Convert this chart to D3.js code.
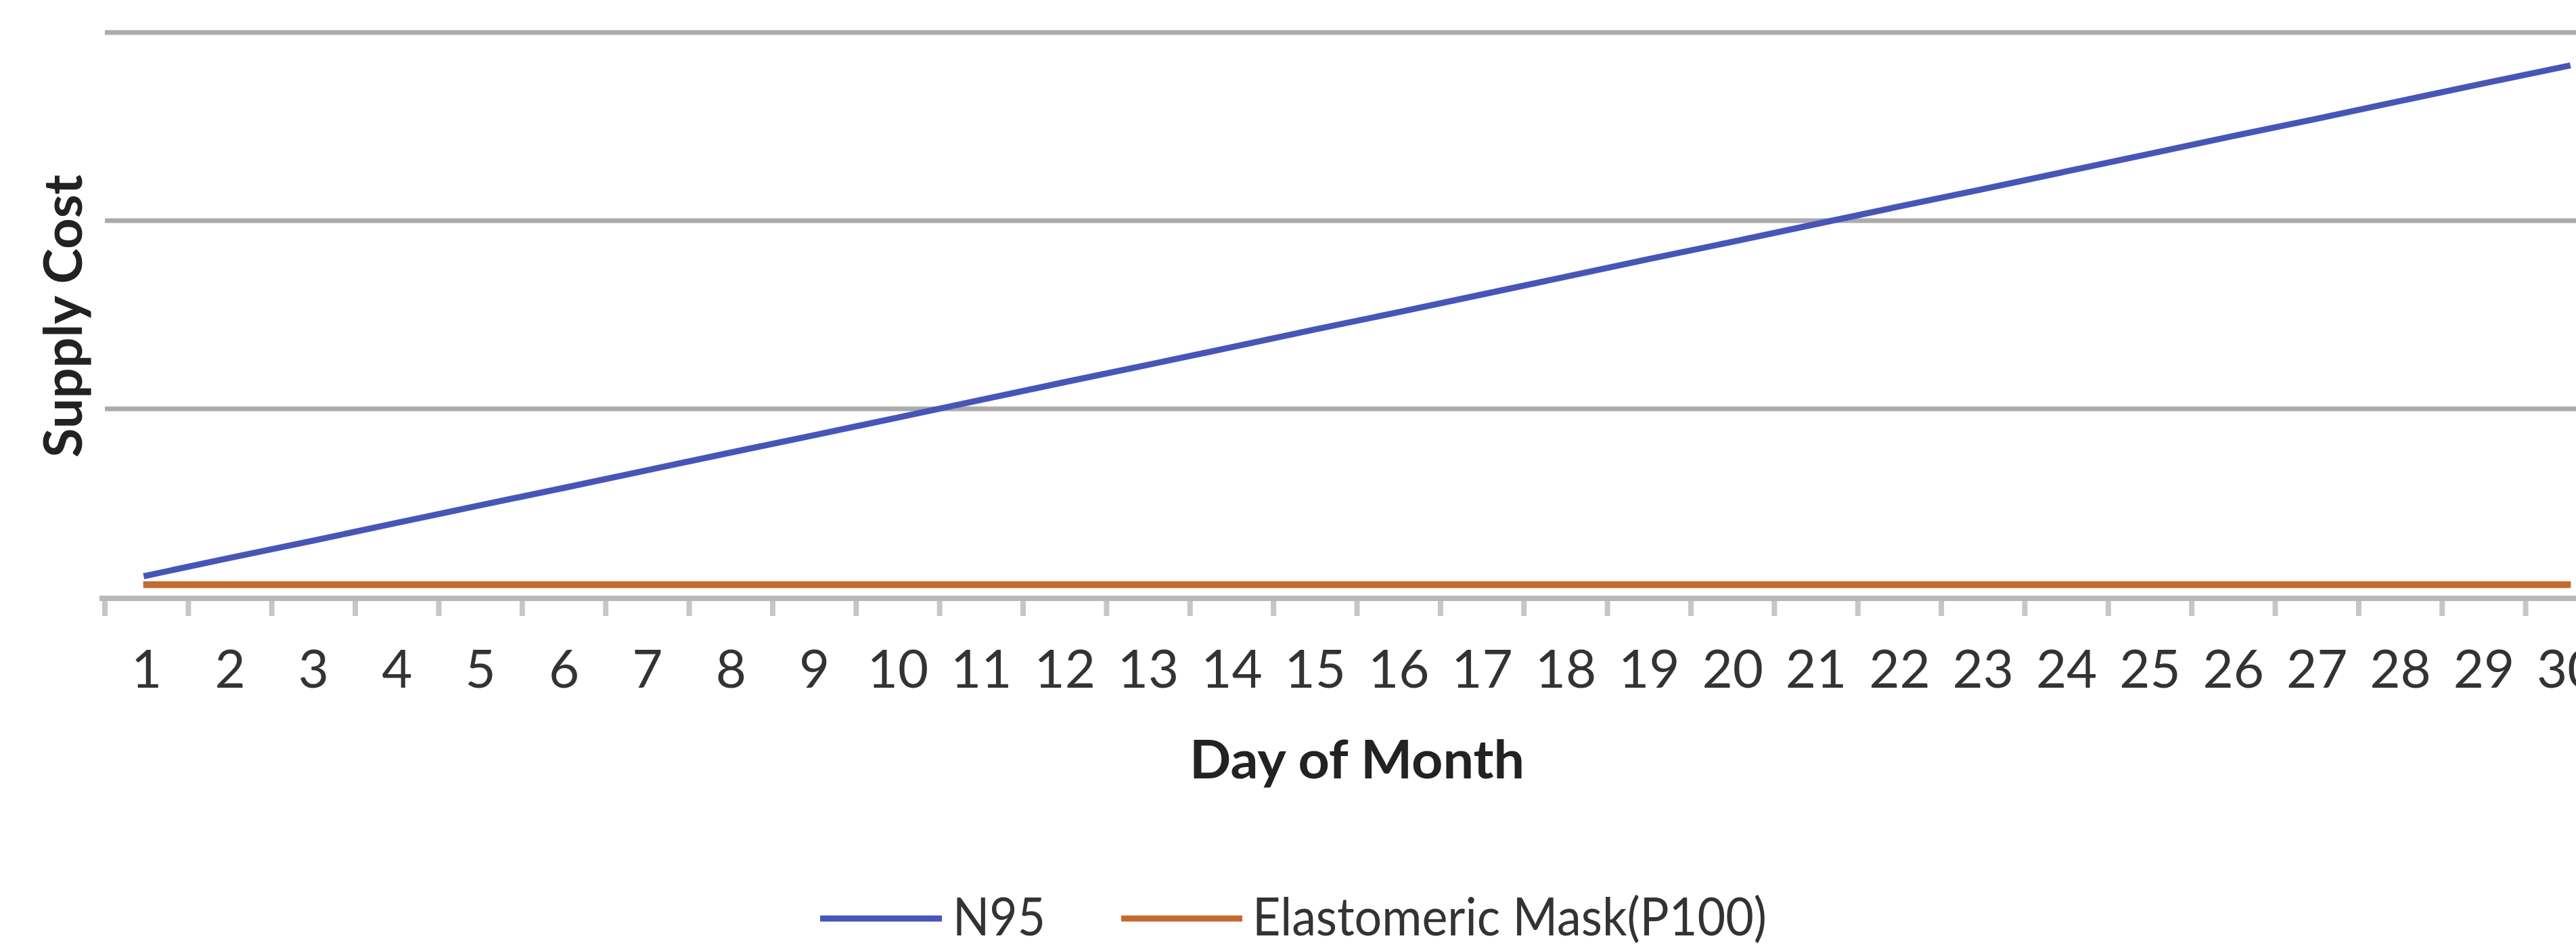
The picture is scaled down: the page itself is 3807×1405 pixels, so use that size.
<!DOCTYPE html>
<html><head><meta charset="utf-8">
<script src="https://cdn.jsdelivr.net/npm/d3@7"></script>
<style>html,body{margin:0;padding:0;background:#fff;overflow:hidden}</style>
</head><body><svg id="chart" width="3807" height="1405"></svg>
<script>
const days = ["1","2","3","4","5","6","7","8","9","10","11","12","13","14","15","16","17","18","19","20","21","22","23","24","25","26","27","28","29","30"];
const n95 = [57,104,150,197,244,290,337,384,430,477,524,571,617,664,711,757,804,851,898,944,991,1038,1084,1131,1178,1225,1271,1318,1365,1411];
const elastomeric = [33,33,33,33,33,33,33,33,33,33,33,33,33,33,33,33,33,33,33,33,33,33,33,33,33,33,33,33,33,33];
const seriesNames = ["N95","Elastomeric Mask(P100)"];
const seriesColors = ["#4656b8","#c46a30"];
const yTicks = [0,500,1000,1500];
const xTitle = "Day of Month";
const yTitle = "Supply Cost";

const W = 3807, H = 1405;
const plot = {left:155, right:3856, top:48, bottom:882};
const FONT = "Lato, 'Open Sans', sans-serif";

const svg = d3.select("#chart");
svg.append("rect").attr("width",W).attr("height",H).attr("fill","#ffffff");

const x = d3.scaleBand().domain(days).range([plot.left, plot.right]).padding(0);
const y = d3.scaleLinear().domain([0,1500]).range([plot.bottom, plot.top]);

// gridlines
svg.append("g").selectAll("line").data(yTicks.filter(v => v > 0)).join("line")
  .attr("x1", plot.left).attr("x2", W)
  .attr("y1", d => y(d)).attr("y2", d => y(d))
  .attr("stroke", "#ababab").attr("stroke-width", 7);

// x axis labels
const gx = svg.append("g").attr("transform", `translate(0,${plot.bottom})`)
  .call(d3.axisBottom(x).tickSize(0).tickPadding(79));
gx.select(".domain").remove();
gx.selectAll("text").attr("font-family", FONT).attr("font-size", 78).attr("fill", "#333");

// axis line + ticks at band boundaries
svg.append("line").attr("x1", plot.left - 8).attr("x2", W)
  .attr("y1", y(0) + 2).attr("y2", y(0) + 2)
  .attr("stroke", "#b8b8b8").attr("stroke-width", 8);
const bounds = days.map(d => x(d)).concat([x(days[days.length-1]) + x.bandwidth()]);
svg.append("g").selectAll("line").data(bounds).join("line")
  .attr("x1", d => d).attr("x2", d => d)
  .attr("y1", y(0) + 6).attr("y2", y(0) + 28)
  .attr("stroke", "#c6c6c6").attr("stroke-width", 8);

// lines
const line = d3.line().x((v,i) => x(days[i]) + x.bandwidth()/2).y(v => y(v));
[n95, elastomeric].forEach((s, i) => {
  svg.append("path").datum(s).attr("d", line)
    .attr("fill", "none").attr("stroke", seriesColors[i])
    .attr("stroke-width", i === 0 ? 9 : 10).attr("stroke-linecap", "square");
});

// axis titles
svg.append("text").attr("x", (plot.left + plot.right)/2).attr("y", 1150)
  .attr("text-anchor", "middle").attr("font-family", FONT).attr("font-weight", "bold")
  .attr("font-size", 78).attr("fill", "#222")
  .attr("textLength", 495).attr("lengthAdjust", "spacingAndGlyphs").text(xTitle);
svg.append("text").attr("transform", "translate(121,467) rotate(-90)")
  .attr("text-anchor", "middle").attr("font-family", FONT).attr("font-weight", "bold")
  .attr("font-size", 78).attr("fill", "#222")
  .attr("textLength", 418).attr("lengthAdjust", "spacingAndGlyphs").text(yTitle);

// legend
const legendItems = [
  {x1:1212, x2:1392, tx:1408, len:137},
  {x1:1657, x2:1836, tx:1851, len:760}
];
legendItems.forEach((it, i) => {
  svg.append("line").attr("x1", it.x1).attr("x2", it.x2).attr("y1", 1357).attr("y2", 1357)
    .attr("stroke", seriesColors[i]).attr("stroke-width", 9);
  svg.append("text").attr("x", it.tx).attr("y", 1382)
    .attr("font-family", FONT).attr("font-size", 78).attr("fill", "#333")
    .attr("textLength", it.len).attr("lengthAdjust", "spacingAndGlyphs").text(seriesNames[i]);
});
</script></body></html>
